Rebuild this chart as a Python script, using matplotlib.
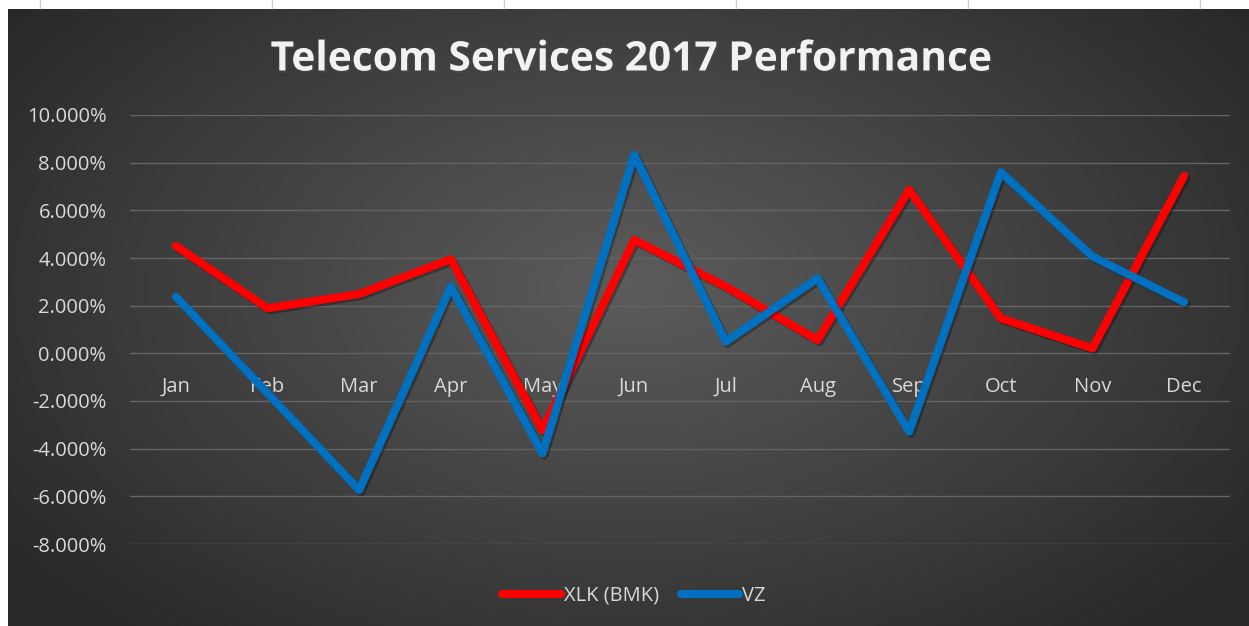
"""
Telecom Services 2017 Performance — линейный график в стиле Excel (тёмная тема).
"""

import numpy as np
import matplotlib
matplotlib.use("Agg")
import matplotlib.pyplot as plt
import matplotlib.patheffects as pe
from matplotlib.ticker import PercentFormatter

# Данные (в процентах)
months = ["Jan", "Feb", "Mar", "Apr", "May", "Jun",
          "Jul", "Aug", "Sep", "Oct", "Nov", "Dec"]
xlk = [4.51, 1.89, 2.49, 3.95, -3.22, 4.76, 2.80, 0.56, 6.86, 1.47, 0.21, 7.45]
vz = [2.38, -1.67, -5.74, 2.80, -4.20, 8.33, 0.49, 3.15, -3.29, 7.60, 4.06, 2.14]
y_ticks = [-8, -6, -4, -2, 0, 2, 4, 6, 8, 10]

title = "Telecom Services 2017 Performance"
series_names = ["XLK (BMK)", "VZ"]
series_colors = ["#FF0000", "#0070C0"]

plt.rcParams['font.family'] = ['Open Sans', 'DejaVu Sans']
plt.rcParams['axes.unicode_minus'] = False

W, H = 1249, 626
fig = plt.figure(figsize=(W / 100, H / 100), dpi=100, facecolor="white")

# Фон диаграммы: радиальный градиент
bg = fig.add_axes([8 / W, 0, 1 - 8 / W, 1 - 9 / H])
bg.set_axis_off()
gy, gx = np.mgrid[0:1:300j, 0:1:600j]
r = np.sqrt(((gx - 0.5) / 0.62) ** 2 + ((gy - 0.45) / 0.75) ** 2)
r = np.clip(r, 0, 1)
light, dark = np.array([0.36, 0.36, 0.36]), np.array([0.16, 0.16, 0.16])
img = light[None, None, :] * (1 - r[..., None]) + dark[None, None, :] * r[..., None]
bg.imshow(img, aspect="auto", extent=(0, 1, 0, 1), interpolation="bilinear")
bg.set_xlim(0, 1)
bg.set_ylim(0, 1)

# Следы сетки листа Excel сверху
for xp in [40, 272, 504, 736, 968, 1200]:
    fig.add_artist(plt.Line2D([xp / W, xp / W], [1 - 8 / H, 1], color="#d0d0d0", lw=1))

# Основная область построения
ax = fig.add_axes([130 / W, 1 - 544 / H, (1230 - 130) / W, (544 - 115) / H])
ax.set_facecolor("none")
x = np.arange(len(months))

shadow = [pe.SimpleLineShadow(offset=(1.5, -1.5), shadow_color="black", alpha=0.3),
          pe.Normal()]
for vals, name, col in zip([xlk, vz], series_names, series_colors):
    ax.plot(x, vals, color=col, lw=5.8, label=name, solid_joinstyle="round",
            solid_capstyle="round", path_effects=shadow, zorder=3)

ax.set_xlim(-0.5, len(months) - 0.5)
ax.set_ylim(-8, 10)
ax.set_yticks(y_ticks)
ax.yaxis.set_major_formatter(PercentFormatter(decimals=3))
ax.grid(axis="y", color="#646464", lw=1)
ax.set_axisbelow(True)
for s in ["top", "right", "left"]:
    ax.spines[s].set_visible(False)
ax.spines["bottom"].set_position(("data", 0))
ax.spines["bottom"].set_visible(False)

ax.set_xticks(x)
ax.set_xticklabels(months)
ax.tick_params(axis="x", length=0, pad=17, labelsize=14.5, labelcolor="#d9d9d9")
ax.tick_params(axis="y", length=0, pad=17, labelsize=14.5, labelcolor="#d9d9d9")

fig.text(0.506, 1 - 60 / H, title, ha="center", va="center", fontsize=29.3,
         fontweight="bold", color="#f2f2f2",
         path_effects=[pe.withSimplePatchShadow(offset=(1.5, -1.5), alpha=0.5)])

leg = fig.legend(loc="center", bbox_to_anchor=(634 / W, 1 - 596 / H), ncol=2,
                 frameon=False, fontsize=14.5, labelcolor="#d9d9d9",
                 handlelength=2.9, handletextpad=0.15, columnspacing=1.1)
for line in leg.get_lines():
    line.set_linewidth(5.8)
    line.set_path_effects([])

fig.savefig("out.png", dpi=100, facecolor="white")
plt.close(fig)
